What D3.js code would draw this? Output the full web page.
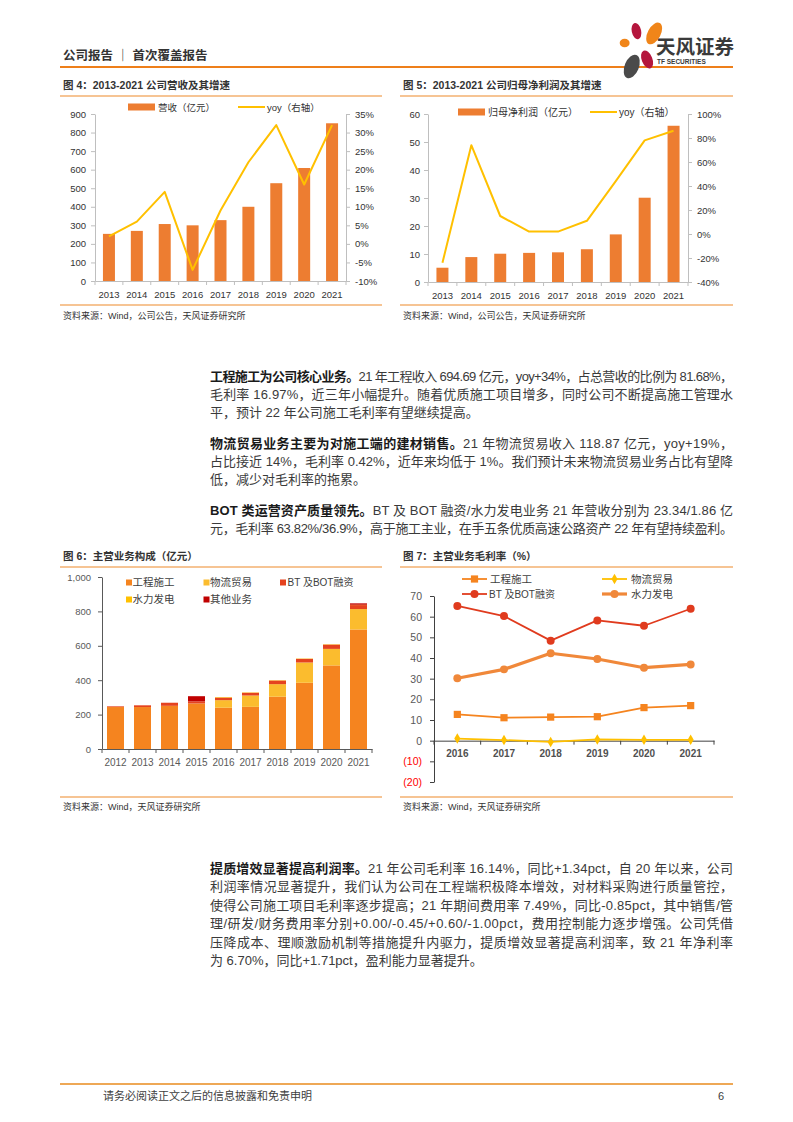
<!DOCTYPE html>
<html><head><meta charset="utf-8">
<script src="https://cdn.jsdelivr.net/npm/d3@7"></script>
<style>body{margin:0;background:#fff}svg{display:block}</style>
</head><body>
<svg id="page" width="793" height="1122"></svg>
<script>
// ---------------- DATA ----------------
const years4 = ["2013","2014","2015","2016","2017","2018","2019","2020","2021"];
const revenue = [254, 270, 307, 300, 328, 400, 527, 609, 850];
const revenueYoy = [2, 6, 14, -7, 9, 22, 32, 16, 32];
const revTicksL = [0,100,200,300,400,500,600,700,800,900];
const revTicksR = [-10,-5,0,5,10,15,20,25,30,35];

const years5 = ["2013","2014","2015","2016","2017","2018","2019","2020","2021"];
const netProfit = [5.1, 8.9, 10.1, 10.4, 10.6, 11.7, 17.0, 30.1, 55.8];
const netProfitYoy = [-24, 74, 15, 2, 2, 11, 44, 78, 86];
const npTicksL = [0,10,20,30,40,50,60];
const npTicksR = [-40,-20,0,20,40,60,80,100];

const years6 = ["2012","2013","2014","2015","2016","2017","2018","2019","2020","2021"];
const segNames = ["工程施工","物流贸易","BT及BOT融资","水力发电","其他业务"];
const segConstruction = [244, 244, 251, 265, 240, 245, 304, 385, 486, 694.69];
const segLogistics    = [0, 0, 0, 0, 44, 66, 73, 118, 96, 118.87];
const segBT           = [4, 10, 18, 12, 15, 16, 21, 21, 25, 23.34];
const segHydro        = [0, 0, 0, 0, 3, 2, 2, 2, 2, 1.86];
const segOther        = [0, 0, 0, 30, 0, 0, 0, 0, 0, 8];
const segTicks = [0,200,400,600,800,1000];

const years7 = ["2016","2017","2018","2019","2020","2021"];
const gmConstruction = [12.7, 11.1, 11.4, 11.6, 16.0, 16.97];
const gmLogistics    = [1.0, 0.3, -0.6, 0.6, 0.4, 0.42];
const gmBT           = [65.2, 60.3, 48.4, 58.2, 55.6, 63.82];
const gmHydro        = [30.2, 34.5, 42.3, 39.5, 35.3, 36.9];
const gmTicks = [-20,-10,0,10,20,30,40,50,60,70];

// ---------------- SETUP ----------------
const FONT = '"Liberation Sans","Noto Sans CJK SC",sans-serif';
const TXT = '#333333';
const RULE = '#EE8A2A';
const svg = d3.select('#page').style('font-family', FONT);
svg.append('rect').attr('width',793).attr('height',1122).attr('fill','#fff');

function text(x, y, s, o={}) {
  return svg.append('text').attr('x',x).attr('y',y)
    .attr('font-size', o.size||10).attr('font-weight', o.bold?700:400)
    .attr('fill', o.fill||TXT).attr('text-anchor', o.anchor||'start').text(s);
}
function rule(x1,x2,y,w=1.2,c=RULE){
  svg.append('line').attr('x1',x1).attr('x2',x2).attr('y1',y).attr('y2',y).attr('stroke',c).attr('stroke-width',w);
}

// ---------------- HEADER ----------------
text(63, 60, "公司报告 ｜ 首次覆盖报告", {size:12.5, bold:true, fill:'#333'});
rule(60, 733, 67, 2, '#EE7F1A');
// logo petals
const logo = svg.append('g').attr('transform','translate(640,50) scale(1.18) translate(-640,-50)');
[
  {cx:652,cy:36,rx:5.5,ry:10,rot:28,c:'#F08519'},
  {cx:637,cy:34,rx:4,ry:7,rot:-12,c:'#B5163D'},
  {cx:627,cy:44,rx:4.2,ry:3.6,rot:0,c:'#F08519'},
  {cx:633,cy:64,rx:6,ry:10.5,rot:22,c:'#4A4A4A'},
  {cx:646,cy:58,rx:4.5,ry:8,rot:-22,c:'#B5163D'}
].forEach(p=>logo.append('ellipse').attr('cx',p.cx).attr('cy',p.cy).attr('rx',p.rx).attr('ry',p.ry)
  .attr('transform',`rotate(${p.rot},${p.cx},${p.cy})`).attr('fill',p.c));
text(656, 54, "天风证券", {size:19.5, bold:true, fill:'#3a3a3a'});
text(657, 64, "TF SECURITIES", {size:6.5, bold:true, fill:'#3a3a3a'});

// ---------------- COMMON AXIS STYLE ----------------
function styleAxis(g, color, size, fill){
  g.select('.domain').attr('stroke', color);
  g.selectAll('.tick line').attr('stroke', color);
  g.selectAll('.tick text').attr('font-size', size).attr('fill', fill||TXT).style('font-family', FONT);
}

// ---------------- BAR + LINE CHART ----------------
function barLine(cfg){
  const g = svg.append('g');
  const x = d3.scaleBand().domain(cfg.years).range([cfg.x0, cfg.x1]);
  const yL = d3.scaleLinear().domain([cfg.ticksL[0], cfg.ticksL[cfg.ticksL.length-1]]).range([cfg.yBot, cfg.yTop]);
  const yR = d3.scaleLinear().domain([cfg.ticksR[0], cfg.ticksR[cfg.ticksR.length-1]]).range([cfg.yBot, cfg.yTop]);
  const bw = 12;
  g.selectAll('rect.bar').data(cfg.bars).join('rect').attr('class','bar')
    .attr('x',(d,i)=>x(cfg.years[i])+(x.bandwidth()-bw)/2).attr('y',d=>yL(d))
    .attr('width',bw).attr('height',d=>cfg.yBot-yL(d)).attr('fill','#ED7D31');
  const axL = g.append('g').attr('transform',`translate(${cfg.x0},0)`)
    .call(d3.axisLeft(yL).tickValues(cfg.ticksL).tickSize(4).tickPadding(cfg.padL).tickSizeOuter(0));
  styleAxis(axL, '#BFBFBF', 9.5);
  const axR = g.append('g').attr('transform',`translate(${cfg.x1},0)`)
    .call(d3.axisRight(yR).tickValues(cfg.ticksR).tickSize(4).tickPadding(5).tickSizeOuter(0).tickFormat(d=>d+'%'));
  styleAxis(axR, '#BFBFBF', 9.5);
  const axB = g.append('g').attr('transform',`translate(0,${cfg.yBot})`)
    .call(d3.axisBottom(x).tickSize(0).tickPadding(10.5));
  styleAxis(axB, '#BFBFBF', 9.5);
  g.selectAll('line.bt').data(cfg.years.map(d=>x(d)).concat([cfg.x1])).join('line').attr('class','bt')
    .attr('x1',d=>d).attr('x2',d=>d).attr('y1',cfg.yBot).attr('y2',cfg.yBot+4).attr('stroke','#BFBFBF');
  const line = d3.line().x((d,i)=>x(cfg.years[i])+x.bandwidth()/2).y(d=>yR(d));
  g.append('path').datum(cfg.line).attr('d',line).attr('fill','none').attr('stroke','#FFC000').attr('stroke-width',2).attr('stroke-linejoin','round');
  // legend
  const L = cfg.legend;
  g.append('rect').attr('x',L.rx).attr('y',L.y-3.5).attr('width',27).attr('height',7).attr('fill','#ED7D31');
  g.append('text').attr('x',L.rx+30).attr('y',L.y+3.5).attr('font-size',L.size).attr('fill',TXT).text(L.barName);
  g.append('line').attr('x1',L.lx).attr('x2',L.lx+27).attr('y1',L.y).attr('y2',L.y).attr('stroke','#FFC000').attr('stroke-width',2);
  g.append('text').attr('x',L.lx+29).attr('y',L.y+3.5).attr('font-size',L.size).attr('fill',TXT).text(L.lineName);
}

// Figure 4
text(63, 89, "图 4：2013-2021 公司营收及其增速", {size:10.5, bold:true});
rule(60, 382, 96);
barLine({years:years4, bars:revenue, line:revenueYoy, ticksL:revTicksL, ticksR:revTicksR,
  x0:95, x1:346, yTop:114, yBot:281, padL:5,
  legend:{rx:128, lx:238, y:107, size:9.5, barName:"营收（亿元）", lineName:"yoy（右轴）"}});
rule(60, 382, 305);
text(63, 319, "资料来源：Wind，公司公告，天风证券研究所", {size:9});

// Figure 5
text(403, 89, "图 5：2013-2021 公司归母净利润及其增速", {size:10.5, bold:true});
rule(400, 733, 96);
barLine({years:years5, bars:netProfit, line:netProfitYoy, ticksL:npTicksL, ticksR:npTicksR,
  x0:428, x1:688, yTop:114, yBot:282, padL:4,
  legend:{rx:458, lx:590, y:112, size:10, barName:"归母净利润（亿元）", lineName:"yoy（右轴）"}});
rule(400, 733, 305);
text(403, 319, "资料来源：Wind，公司公告，天风证券研究所", {size:9});

// ---------------- PARAGRAPHS ----------------
function para(y, parts, justify){
  const t = svg.append('text').attr('x',210).attr('y',y).attr('font-size',13).attr('fill','#3a3a3a');
  parts.forEach(p=>t.append('tspan').attr('font-weight',p[1]?700:400).attr('fill',p[1]?'#1a1a1a':'#3a3a3a').text(p[0]));
  if(justify){
    const w = t.node().getComputedTextLength();
    const n = parts.map(p=>p[0]).join('').length;
    t.style('letter-spacing', ((523 - w)/(n-1))+'px');
  }
}
para(380.5, [["工程施工为公司核心业务。",1],["21 年工程收入 694.69 亿元，yoy+34%，占总营收的比例为 81.68%，",0]], true);
para(398.5, [["毛利率 16.97%，近三年小幅提升。随着优质施工项目增多，同时公司不断提高施工管理水",0]], true);
para(416.5, [["平，预计 22 年公司施工毛利率有望继续提高。",0]], false);
para(447.5, [["物流贸易业务主要为对施工端的建材销售。",1],["21 年物流贸易收入 118.87 亿元，yoy+19%，",0]], true);
para(465.5, [["占比接近 14%，毛利率 0.42%，近年来均低于 1%。我们预计未来物流贸易业务占比有望降",0]], true);
para(483.5, [["低，减少对毛利率的拖累。",0]], false);
para(514.5, [["BOT 类运营资产质量领先。",1],["BT 及 BOT 融资/水力发电业务 21 年营收分别为 23.34/1.86 亿",0]], true);
para(532.5, [["元，毛利率 63.82%/36.9%，高于施工主业，在手五条优质高速公路资产 22 年有望持续盈利。",0]], true);

para(872.5, [["提质增效显著提高利润率。",1],["21 年公司毛利率 16.14%，同比+1.34pct，自 20 年以来，公司",0]], true);
para(891, [["利润率情况显著提升，我们认为公司在工程端积极降本增效，对材料采购进行质量管控，",0]], true);
para(909.5, [["使得公司施工项目毛利率逐步提高；21 年期间费用率 7.49%，同比-0.85pct，其中销售/管",0]], true);
para(928, [["理/研发/财务费用率分别+0.00/-0.45/+0.60/-1.00pct，费用控制能力逐步增强。公司凭借",0]], true);
para(946.5, [["压降成本、理顺激励机制等措施提升内驱力，提质增效显著提高利润率，致 21 年净利率",0]], true);
para(965, [["为 6.70%，同比+1.71pct，盈利能力显著提升。",0]], false);

// ---------------- FIGURE 6 ----------------
text(63, 560, "图 6：主营业务构成（亿元）", {size:10.5, bold:true});
rule(60, 382, 567);
(function(){
  const g = svg.append('g');
  const x0=102, x1=372, yTop=577, yBot=749;
  const x = d3.scaleBand().domain(years6).range([x0,x1]);
  const y = d3.scaleLinear().domain([0,1000]).range([yBot,yTop]);
  const colors = ["#F5841F","#FBBC2E","#E5431F","#FFC000","#C00000"];
  const rows = years6.map((yr,i)=>({year:yr, "工程施工":segConstruction[i], "物流贸易":segLogistics[i],
    "BT及BOT融资":segBT[i], "水力发电":segHydro[i], "其他业务":segOther[i]}));
  const stack = d3.stack().keys(segNames)(rows);
  const bw = 17;
  stack.forEach((layer,k)=>{
    g.selectAll(null).data(layer).join('rect')
      .attr('x',d=>x(d.data.year)+(x.bandwidth()-bw)/2).attr('y',d=>y(d[1]))
      .attr('width',bw).attr('height',d=>Math.max(0,y(d[0])-y(d[1]))).attr('fill',colors[k]);
  });
  const axL = g.append('g').attr('transform',`translate(${x0},0)`)
    .call(d3.axisLeft(y).tickValues(segTicks).tickSize(4).tickPadding(7).tickSizeOuter(0).tickFormat(d3.format(',')));
  styleAxis(axL,'#595959',9.5,'#595959');
  const axB = g.append('g').attr('transform',`translate(0,${yBot})`)
    .call(d3.axisBottom(x).tickSize(0).tickPadding(9.5));
  styleAxis(axB,'#595959',10,'#595959');
  g.selectAll('line.bt').data(years6.map(d=>x(d)).concat([x1])).join('line').attr('class','bt')
    .attr('x1',d=>d).attr('x2',d=>d).attr('y1',yBot).attr('y2',yBot+4).attr('stroke','#595959');
  // legend
  const pos = [[126,582.5],[203.5,582.5],[280,582.5],[126,599.5],[203.5,599.5]];
  segNames.forEach((n,k)=>{
    g.append('rect').attr('x',pos[k][0]).attr('y',pos[k][1]-3).attr('width',6).attr('height',6).attr('fill',colors[k]);
    g.append('text').attr('x',pos[k][0]+ (k==2?7.5:6.5)).attr('y',pos[k][1]+3.8)
      .attr('font-size', k==2?10:10.5).attr('fill','#404040').text(n==="BT及BOT融资"?"BT 及BOT融资":n);
  });
})();
rule(60, 382, 797);
text(63, 810, "资料来源：Wind，天风证券研究所", {size:9});

// ---------------- FIGURE 7 ----------------
text(403, 560, "图 7：主营业务毛利率（%）", {size:10.5, bold:true});
rule(400, 733, 567);
(function(){
  const g = svg.append('g');
  const x0=434, x1=714, yTop=596, yBot=782;
  const x = d3.scaleBand().domain(years7).range([x0,x1]);
  const y = d3.scaleLinear().domain([-20,70]).range([yBot,yTop]);
  const axL = g.append('g').attr('transform',`translate(${x0},0)`)
    .call(d3.axisLeft(y).tickValues(gmTicks).tickSize(4).tickPadding(8).tickSizeOuter(0)
      .tickFormat(d=>d<0?`(${-d})`:d));
  styleAxis(axL,'#404040',10.5,'#595959');
  axL.selectAll('.tick text').attr('fill',d=>d<0?'#FF0000':'#595959');
  const axB = g.append('g').attr('transform',`translate(0,${y(0)})`)
    .call(d3.axisBottom(x).tickSize(0).tickPadding(9.5));
  styleAxis(axB,'#404040',10,'#404040');
  axB.selectAll('.tick text').attr('font-weight',700).attr('fill','#505050');
  g.selectAll('line.bt').data(years7.map(d=>x(d)).concat([x1])).join('line').attr('class','bt')
    .attr('x1',d=>d).attr('x2',d=>d).attr('y1',y(0)).attr('y2',y(0)+4).attr('stroke','#404040');
  const cx = yr=>x(yr)+x.bandwidth()/2;
  const series = [
    {name:"水力发电", vals:gmHydro, color:"#F0883A", w:3.2, sym:d3.symbolCircle, size:50},
    {name:"工程施工", vals:gmConstruction, color:"#F5841F", w:1.8, sym:d3.symbolSquare, size:52},
    {name:"BT及BOT融资", vals:gmBT, color:"#E03B1E", w:1.8, sym:d3.symbolCircle, size:50},
    {name:"物流贸易", vals:gmLogistics, color:"#FFC000", w:1.8, sym:d3.symbolDiamond, size:32}
  ];
  const line = d3.line().x((d,i)=>cx(years7[i])).y(d=>y(d));
  series.forEach(s=>{
    g.append('path').datum(s.vals).attr('d',line).attr('fill','none').attr('stroke',s.color).attr('stroke-width',s.w).attr('stroke-linejoin','round');
    g.selectAll(null).data(s.vals).join('path')
      .attr('transform',(d,i)=>`translate(${cx(years7[i])},${y(d)})`)
      .attr('d',d3.symbol().type(s.sym).size(s.size)).attr('fill',s.color);
  });
  // legend
  const leg = [
    {s:series[1], lx:462, y:579, tx:490},
    {s:series[3], lx:602, y:579, tx:631},
    {s:series[2], lx:462, y:594, tx:489},
    {s:series[0], lx:602, y:594, tx:631}
  ];
  leg.forEach(l=>{
    g.append('line').attr('x1',l.lx).attr('x2',l.lx+25).attr('y1',l.y).attr('y2',l.y).attr('stroke',l.s.color).attr('stroke-width',l.s.w);
    g.append('path').attr('transform',`translate(${l.lx+12.5},${l.y})`).attr('d',d3.symbol().type(l.s.sym).size(l.s.size)).attr('fill',l.s.color);
    g.append('text').attr('x',l.tx).attr('y',l.y+3.8).attr('font-size',l.s.name==="BT及BOT融资"?10:10.5).attr('fill','#404040')
      .text(l.s.name==="BT及BOT融资"?"BT 及BOT融资":l.s.name);
  });
})();
rule(400, 733, 797);
text(403, 810, "资料来源：Wind，天风证券研究所", {size:9});

// ---------------- FOOTER ----------------
rule(60, 733, 1084, 1.5, '#E98B1E');
text(103, 1100, "请务必阅读正文之后的信息披露和免责申明", {size:11, fill:'#404040'});
text(718, 1100, "6", {size:11, fill:'#404040'});
</script>
</body></html>
